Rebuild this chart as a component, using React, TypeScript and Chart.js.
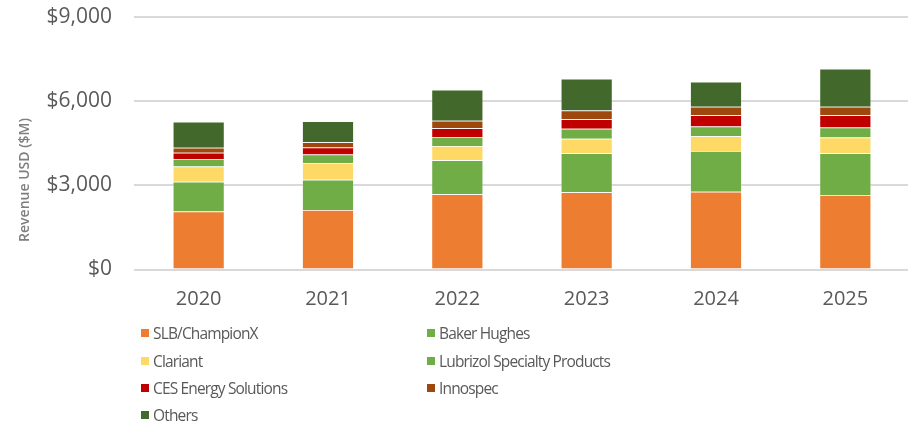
import React, { useEffect, useRef } from 'react';
import { Chart, registerables } from 'chart.js';
Chart.register(...registerables);

const categories = ['2020', '2021', '2022', '2023', '2024', '2025'];
const slbChampionX = [2071, 2121, 2678, 2750, 2775, 2657];
const bakerHughes = [1061, 1082, 1214, 1393, 1453, 1486];
const clariant = [536, 596, 514, 514, 521, 561];
const lubrizol = [275, 296, 321, 357, 346, 357];
const cesEnergy = [214, 250, 307, 343, 404, 439];
const innospec = [179, 189, 264, 311, 300, 300];
const others = [929, 750, 1107, 1132, 893, 1357];

const seriesNames = ['SLB/ChampionX', 'Baker Hughes', 'Clariant', 'Lubrizol Specialty Products', 'CES Energy Solutions', 'Innospec', 'Others'];
const seriesValues = [slbChampionX, bakerHughes, clariant, lubrizol, cesEnergy, innospec, others];
const seriesColors = ['#ED7D31', '#70AD47', '#FFD966', '#70AD47', '#C00000', '#9E480E', '#43682B'];
const yTicks = [0, 3000, 6000, 9000];
const yTitle = 'Revenue USD ($M)';

const FONT = '"Open Sans", sans-serif';

export default function App() {
  const ref = useRef<HTMLCanvasElement>(null);
  useEffect(() => {
    const titlePlugin = {
      id: 'ytitle',
      afterDraw(chart: any) {
        const ctx = chart.ctx;
        ctx.save();
        ctx.translate(25, 180);
        ctx.rotate(-Math.PI / 2);
        ctx.font = '600 14px ' + FONT;
        ctx.fillStyle = '#7F7F7F';
        ctx.textAlign = 'center';
        ctx.textBaseline = 'middle';
        ctx.fillText(yTitle, 0, 0);
        ctx.restore();
      },
    };
    const chart = new Chart(ref.current as HTMLCanvasElement, {
      type: 'bar',
      data: {
        labels: categories,
        datasets: seriesNames.map((name, i) => ({
          label: name,
          data: seriesValues[i],
          backgroundColor: seriesColors[i],
          borderColor: 'rgba(255,255,255,0.35)',
          borderWidth: 0.75,
          barPercentage: 0.4,
          categoryPercentage: 1,
        })),
      },
      options: {
        responsive: false,
        animation: false,
        layout: { padding: { left: 0, right: 0, top: 17, bottom: 104.5 } },
        plugins: { legend: { display: false }, tooltip: { enabled: false } },
        scales: {
          x: {
            stacked: true,
            grid: { display: false, drawTicks: false },
            border: { display: false },
            ticks: { color: '#595959', font: { family: FONT, size: 20 }, padding: 18 },
            afterFit: (s: any) => { s.height = 50; s.paddingLeft = 0; s.paddingRight = 0; },
          },
          y: {
            stacked: true,
            min: 0,
            max: 9000,
            afterBuildTicks: (s: any) => { s.ticks = yTicks.map((v) => ({ value: v })); },
            grid: { color: '#D9D9D9', lineWidth: 2, drawTicks: false },
            border: { display: false },
            ticks: {
              color: '#595959',
              font: { family: FONT, size: 21 },
              padding: 22,
              callback: (v: any) => '$' + Number(v).toLocaleString('en-US'),
            },
            afterFit: (s: any) => { s.width = 134; s.paddingTop = 0; s.paddingBottom = 0; },
          },
        },
      },
      plugins: [titlePlugin],
    });
    return () => chart.destroy();
  }, []);

  const legendOrder = [0, 1, 2, 3, 4, 5, 6];
  const rowY = [333.3, 360.5, 387.7, 415];
  const colX = [141, 427];

  return (
    <div style={{ position: 'fixed', left: 0, top: 0, width: 908, height: 424, overflow: 'hidden', background: '#fff' }}>
      <canvas ref={ref} width={910} height={424} style={{ position: 'absolute', left: 0, top: 0, display: 'block' }} />
      {legendOrder.map((idx, k) => {
        const row = Math.floor(k / 2);
        const col = k % 2;
        return (
          <div
            key={idx}
            style={{
              position: 'absolute',
              left: colX[col],
              top: rowY[row] - 12,
              height: 24,
              display: 'flex',
              alignItems: 'center',
              fontFamily: FONT,
              fontSize: 15.5,
              letterSpacing: '-0.85px',
              color: '#595959',
              whiteSpace: 'nowrap',
            }}
          >
            <span style={{ display: 'inline-block', width: 8, height: 8, background: seriesColors[idx], marginRight: 4 }} />
            <span>{seriesNames[idx]}</span>
          </div>
        );
      })}
    </div>
  );
}
